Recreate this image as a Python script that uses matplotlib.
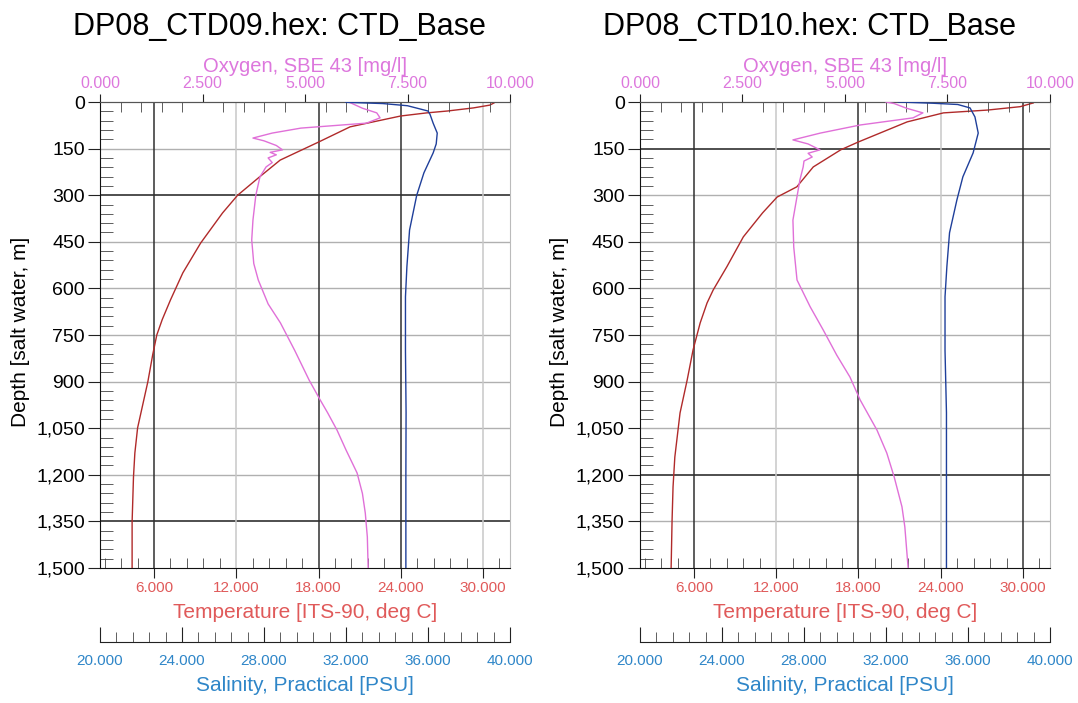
import matplotlib.pyplot as plt
from matplotlib.ticker import MultipleLocator, FuncFormatter

plt.rcParams['font.family'] = ['Liberation Sans', 'DejaVu Sans']

# ---- DP08_CTD09 (left) ----
temp09_depth = [3, 10, 19, 29, 35, 45, 61, 80, 129, 187, 241, 300, 357, 454, 550, 637, 700, 750, 814, 900,
                1049, 1130, 1207, 1352, 1500]
temp09 = [30.8, 30.5, 29.3, 27.4, 25.9, 24.0, 22.3, 20.3, 18.0, 15.2, 13.7, 12.1, 11.0, 9.4, 8.1, 7.2, 6.6,
          6.2, 5.9, 5.55, 4.8, 4.6, 4.5, 4.4, 4.4]

oxy09_depth = [2, 20, 35, 51, 68, 84, 100, 116, 125, 140, 154, 162, 170, 180, 195, 209, 241, 300, 380, 444,
               520, 573, 650, 711, 800, 895, 959, 1000, 1056, 1120, 1194, 1260, 1323, 1400, 1500]
oxy09 = [6.1, 6.4, 6.75, 6.83, 6.5, 4.9, 4.2, 3.73, 4.0, 4.3, 4.45, 4.15, 4.3, 4.1, 4.2, 4.05, 3.9, 3.8, 3.73,
         3.7, 3.75, 3.86, 4.1, 4.4, 4.75, 5.1, 5.37, 5.55, 5.78, 6.0, 6.27, 6.4, 6.47, 6.52, 6.54]

sal09_depth = [1, 5, 12, 29, 40, 68, 100, 135, 164, 228, 300, 412, 530, 627, 800, 1000, 1200, 1500]
sal09 = [32.0, 33.8, 35.0, 36.0, 36.1, 36.25, 36.45, 36.4, 36.25, 35.8, 35.45, 35.1, 34.97, 34.9, 34.9,
         34.93, 34.92, 34.92]

# ---- DP08_CTD10 (right) ----
temp10_depth = [3, 15, 26, 35, 64, 129, 154, 209, 273, 306, 357, 434, 530, 605, 647, 711, 798, 895, 1001,
                1143, 1239, 1345, 1500]
temp10 = [30.75, 29.8, 27.4, 24.2, 21.55, 17.97, 16.7, 14.7, 13.5, 12.06, 11.0, 9.6, 8.4, 7.4, 6.95, 6.45,
          5.93, 5.5, 4.98, 4.6, 4.47, 4.4, 4.33]

oxy10_depth = [0, 5, 20, 35, 51, 74, 100, 122, 135, 154, 165, 177, 190, 209, 251, 380, 467, 573, 659, 734,
               815, 885, 959, 1056, 1130, 1207, 1303, 1368, 1500]
oxy10 = [6.0, 6.2, 6.5, 6.9, 6.66, 5.37, 4.4, 3.73, 4.1, 4.39, 4.1, 4.2, 4.0, 3.98, 3.9, 3.73, 3.75, 3.83,
         4.15, 4.47, 4.8, 5.12, 5.37, 5.78, 6.02, 6.2, 6.39, 6.46, 6.54]

sal10_depth = [0, 4, 8, 19, 48, 100, 164, 241, 315, 421, 530, 627, 800, 1000, 1200, 1500]
sal10 = [32.6, 34.3, 35.5, 36.1, 36.34, 36.5, 36.25, 35.75, 35.46, 35.1, 34.97, 34.88, 34.88, 34.95, 34.95,
         34.95]

depth_ticks = [0, 150, 300, 450, 600, 750, 900, 1050, 1200, 1350, 1500]
temp_ticks = [6, 12, 18, 24, 30]

c_temp = '#e05a5a'
c_oxy = '#dd77dd'
c_sal = '#2f86c8'
grid_dark = '#303030'
grid_light = '#b0b0b0'

fmt3 = FuncFormatter(lambda v, p: '{:.3f}'.format(v))


def panel(left, title, title_x, ylab_x, td, t, od, o, sd, s, dark_depth, dark_temp):
    ax = fig.add_axes([left, 0.192, 0.3803, 0.6629])
    ax.set_ylim(1500, 0)
    ax.set_xlim(2.06, 31.97)

    # grid
    for d in depth_ticks[1:-1]:
        dk = d in dark_depth
        ax.axhline(d, color=grid_dark if dk else grid_light, lw=1.2 if dk else 1.0, zorder=0)
    for tt in temp_ticks:
        dk = tt in dark_temp
        ax.axvline(tt, color=grid_dark if dk else '#c8c8c8', lw=1.1, zorder=0)

    ax.plot(t, td, color='#b02a2a', lw=1.0, zorder=3)

    ax.xaxis.set_ticks_position('bottom')
    ax.xaxis.set_major_locator(MultipleLocator(6))
    ax.xaxis.set_minor_locator(MultipleLocator(1.2))
    ax.xaxis.set_major_formatter(fmt3)
    ax.tick_params(axis='x', which='major', direction='out', length=7, color='#222222',
                   labelsize=11, labelcolor=c_temp, pad=2)
    ax.tick_params(axis='x', which='minor', direction='in', length=7, color='#444444')
    ax.set_xlabel('Temperature [ITS-90, deg C]', color=c_temp, fontsize=15, labelpad=6)

    ax.yaxis.set_major_locator(MultipleLocator(150))
    ax.yaxis.set_minor_locator(MultipleLocator(30))
    ax.yaxis.set_major_formatter(FuncFormatter(lambda v, p: '{:,.0f}'.format(v)))
    ax.tick_params(axis='y', which='major', direction='out', length=9, color='#222222',
                   labelsize=14, pad=2)
    ax.tick_params(axis='y', which='minor', direction='in', length=9, color='#444444')

    ax.spines['left'].set_color('#111111')
    ax.spines['bottom'].set_color('#111111')
    ax.spines['top'].set_color('#555555')
    ax.spines['right'].set_color('#bbbbbb')

    # oxygen on top
    ax_o = ax.twiny()
    ax_o.set_xlim(0, 10)
    ax_o.plot(o, od, color='#e070d8', lw=1.0, zorder=3)
    ax_o.xaxis.set_major_locator(MultipleLocator(2.5))
    ax_o.xaxis.set_minor_locator(MultipleLocator(0.5))
    ax_o.xaxis.set_major_formatter(fmt3)
    ax_o.tick_params(axis='x', which='major', direction='out', length=6, color='#222222',
                     labelsize=11.5, labelcolor=c_oxy, pad=2)
    ax_o.tick_params(axis='x', which='minor', direction='in', length=7, color='#444444')
    ax_o.set_xlabel('Oxygen, SBE 43 [mg/l]', color=c_oxy, fontsize=14.5, labelpad=3)
    for sp in ['left', 'right', 'bottom']:
        ax_o.spines[sp].set_visible(False)
    ax_o.spines['top'].set_color('#555555')

    # salinity on a separate axis line below
    ax_s = ax.twiny()
    ax_s.set_xlim(20, 40)
    ax_s.plot(s, sd, color='#1f3f9a', lw=1.0, zorder=3)
    ax_s.xaxis.set_ticks_position('bottom')
    ax_s.xaxis.set_label_position('bottom')
    ax_s.spines['bottom'].set_position(('outward', 53))
    for sp in ['left', 'right', 'top']:
        ax_s.spines[sp].set_visible(False)
    ax_s.spines['bottom'].set_color('#222222')
    ax_s.xaxis.set_major_locator(MultipleLocator(4))
    ax_s.xaxis.set_minor_locator(MultipleLocator(0.8))
    ax_s.xaxis.set_major_formatter(fmt3)
    ax_s.tick_params(axis='x', which='major', direction='in', length=11, color='#222222',
                     labelsize=11, labelcolor=c_sal, pad=9)
    ax_s.tick_params(axis='x', which='minor', direction='in', length=7, color='#444444')
    ax_s.set_xlabel('Salinity, Practical [PSU]', color=c_sal, fontsize=15, labelpad=6)

    fig.text(title_x, 0.9616, title, fontsize=22, ha='center', va='center')
    fig.text(ylab_x, 0.528, 'Depth [salt water, m]', fontsize=15, rotation=90,
             ha='center', va='center')
    return ax


fig = plt.figure(figsize=(10.78, 7.03), dpi=100)

panel(0.0928, 'DP08_CTD09.hex: CTD_Base', 0.259, 0.0186,
      temp09_depth, temp09, oxy09_depth, oxy09, sal09_depth, sal09,
      dark_depth=[300, 1350], dark_temp=[6, 18, 24])
panel(0.5937, 'DP08_CTD10.hex: CTD_Base', 0.751, 0.519,
      temp10_depth, temp10, oxy10_depth, oxy10, sal10_depth, sal10,
      dark_depth=[150, 1200], dark_temp=[6, 18, 30])

fig.savefig('out.png', dpi=100)
